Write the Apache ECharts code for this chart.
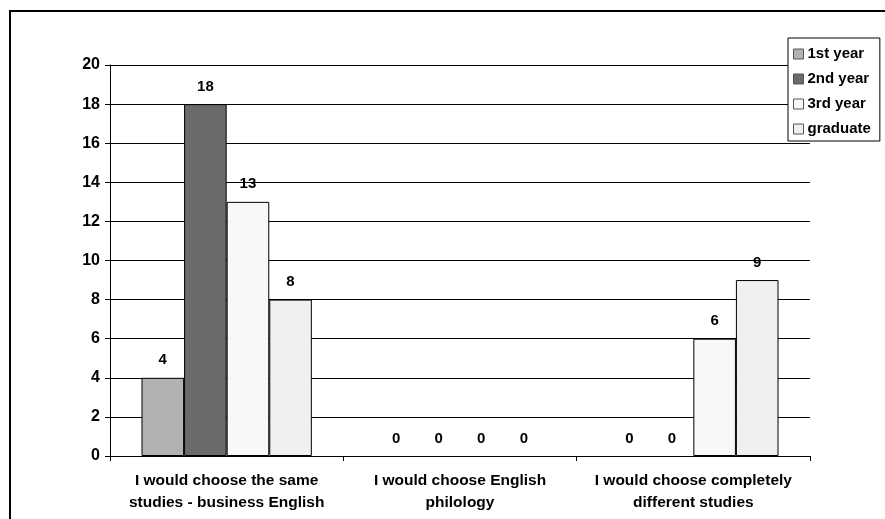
<!DOCTYPE html>
<html>
<head>
<meta charset="utf-8">
<script src="https://cdn.jsdelivr.net/npm/echarts@6/dist/echarts.min.js"></script>
<style>
html,body{margin:0;padding:0;background:#fff;}
#c{width:885px;height:519px;}
</style>
</head>
<body>
<div id="c"></div>
<script>
const categories = ['I would choose the same\nstudies - business English', 'I would choose English\nphilology', 'I would choose completely\ndifferent studies'];
const seriesNames = ['1st year', '2nd year', '3rd year', 'graduate'];
const firstYear = [4, 0, 0];
const secondYear = [18, 0, 0];
const thirdYear = [13, 0, 6];
const graduate = [8, 0, 9];
const yTicks = [0, 2, 4, 6, 8, 10, 12, 14, 16, 18, 20];

const colors = ['#b2b2b2', '#6b6b6e', '#f8f8f8', '#f0f0f0'];
const values = [firstYear, secondYear, thirdYear, graduate];
const font = 'Liberation Sans, Arial, sans-serif';

const chart = echarts.init(document.getElementById('c'), null, {renderer: 'canvas'});
chart.setOption({
  animation: false,
  backgroundColor: '#fff',
  textStyle: {fontFamily: font},
  grid: {left: 110, right: 75, top: 65, bottom: 63, containLabel: false},
  legend: {
    orient: 'vertical',
    left: 788, top: 38,
    data: seriesNames,
    backgroundColor: '#fff',
    borderColor: '#000',
    borderWidth: 1,
    borderRadius: 0,
    padding: [8, 9, 4, 5],
    itemWidth: 10,
    itemHeight: 10,
    itemGap: 9,
    icon: 'rect',
    itemStyle: {borderColor: '#555', borderWidth: 1},
    textStyle: {fontFamily: font, fontWeight: 'bold', fontSize: 15, color: '#000', padding: [0, 0, 0, -1], lineHeight: 16},
    z: 10
  },
  xAxis: {
    type: 'category',
    data: categories,
    axisLine: {lineStyle: {color: '#000', width: 1}},
    axisTick: {show: true, alignWithLabel: false, length: 5, lineStyle: {color: '#000'}},
    axisLabel: {interval: 0, margin: 14, fontFamily: font, fontWeight: 'bold', fontSize: 15.5, color: '#000', lineHeight: 22, align: 'center'},
    splitLine: {show: false}
  },
  yAxis: {
    type: 'value',
    min: yTicks[0],
    max: yTicks[yTicks.length - 1],
    interval: 2,
    axisLine: {show: true, lineStyle: {color: '#000', width: 1}},
    axisTick: {show: true, length: 5, lineStyle: {color: '#000'}},
    axisLabel: {margin: 10, fontFamily: font, fontWeight: 'bold', fontSize: 16, color: '#000'},
    splitLine: {show: true, lineStyle: {color: '#000', width: 1}}
  },
  series: seriesNames.map((name, i) => ({
    name: name,
    type: 'bar',
    data: values[i].map(v => ({value: v, itemStyle: {borderWidth: v === 0 ? 0 : 1}})),
    barGap: '0%',
    barCategoryGap: '27%',
    itemStyle: {color: colors[i], borderColor: '#000', borderWidth: 1},
    label: {show: true, position: 'top', distance: 10, fontFamily: font, fontWeight: 'bold', fontSize: 15, color: '#000'}
  })),
  graphic: [{
    type: 'rect',
    shape: {x: 10, y: 11, width: 1000, height: 1000},
    style: {fill: 'none', stroke: '#000', lineWidth: 2},
    silent: true,
    z: 100
  }]
});
</script>
</body>
</html>
